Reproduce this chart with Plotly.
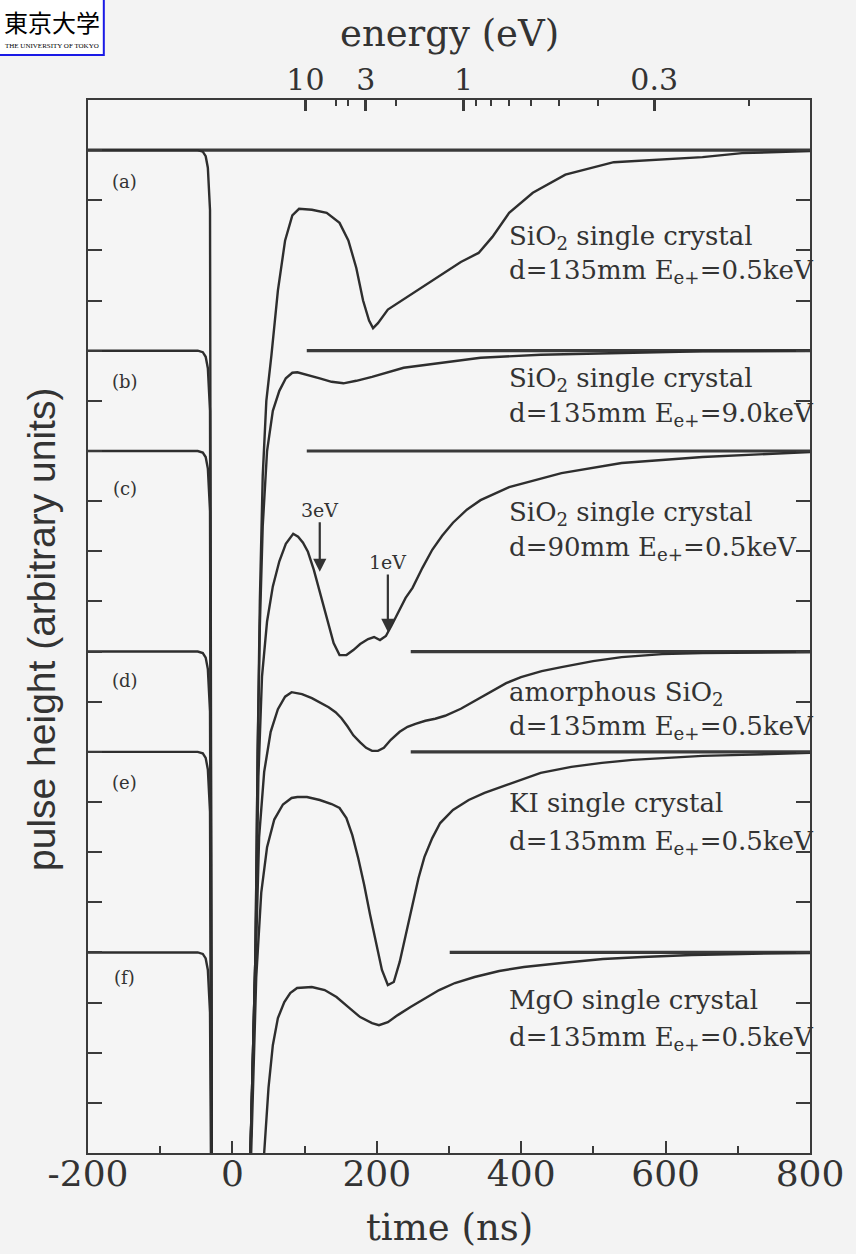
import plotly.graph_objects as go

# ---------------- data (time in ns, pulse height in arbitrary units) ----------------
BASELINES = [20, 16, 14, 10, 8, 4]
BASE_START = [-200, 103, 103, 247, 247, 301]

t_a = [-200, -48, -41, -37, -34, -31, -28, 20, 25, 32, 35, 38, 42, 47, 54, 63, 73,
       83, 92.3, 110.1, 130.6, 148.4, 160.6, 171.6, 181.0, 189.3, 194.8, 201.6, 215.3, 239.9, 267.3,
       316.4, 341.0, 360.1, 383.3, 416.1, 461.2, 528.2, 651.1, 705.8, 800]
v_a = [20, 20, 19.97, 19.88, 19.65, 18.8, -4, -4, 0, 4, 8, 11, 13.5, 15, 15.9, 17.2, 18.2,
       18.7, 18.83, 18.81, 18.75, 18.55, 18.2, 17.65, 17.0, 16.6, 16.45, 16.55, 16.82, 17.05, 17.3,
       17.77, 17.95, 18.27, 18.75, 19.15, 19.51, 19.76, 19.86, 19.94, 19.98]

t_b = [-200, -48, -41, -37, -34, -31, -28, 20, 25, 32, 35, 38, 42, 48, 56, 65, 74, 83, 90,
       104.6, 121.0, 137.4, 153.8, 171.6, 193.4, 237.2, 287.8, 343.7, 427.0, 539.1, 651.1, 800]
v_b = [16, 16, 15.97, 15.88, 15.65, 14.8, -4, -4, 0, 4, 8, 10.5, 12.5, 14, 14.8, 15.2, 15.45, 15.56, 15.57,
       15.52, 15.45, 15.38, 15.35, 15.4, 15.48, 15.66, 15.76, 15.86, 15.92, 15.96, 15.99, 16.0]

t_c = [-200, -48, -41, -37, -34, -31, -28, 20, 25, 32, 36, 41, 48, 56, 65, 74, 84.2, 91.0,
       97.8, 104.6, 112.8, 121.0, 131.9, 140.2, 148.4, 158.0, 167.5, 177.0, 188.0, 196.2, 204.4, 212.6,
       220.8, 231.7, 239.9, 249.5, 263.2, 276.8, 290.5, 305.5, 324.7, 343.7, 383.3, 455.8, 539.1, 651.1, 800]
v_c = [14, 14, 13.97, 13.88, 13.65, 12.8, -4, -4, 0, 4, 7.5, 9.5, 10.6, 11.3, 11.8, 12.15, 12.35, 12.29,
       12.17, 11.99, 11.63, 11.19, 10.57, 10.17, 9.93, 9.93, 10.03, 10.15, 10.25, 10.29, 10.23, 10.31,
       10.53, 10.83, 11.07, 11.27, 11.67, 12.03, 12.31, 12.57, 12.83, 13.02, 13.28, 13.56, 13.76, 13.88, 13.98]

t_d = [-200, -48, -41, -37, -34, -31, -28, 20, 25, 32, 37, 44, 53, 63, 73, 82, 96.4, 110.1, 121.0,
       133.3, 142.9, 151.1, 159.3, 167.5, 177.0, 185.2, 193.4, 201.6, 209.8, 219.4, 231.7, 242.6, 253.6,
       267.3, 280.9, 294.6, 316.4, 338.3, 360.1, 379.2, 399.7, 428.4, 455.8, 499.5, 539.1, 595.1, 651.1, 800]
v_d = [10, 10, 9.97, 9.88, 9.65, 8.8, -4, -4, 0, 4, 6.3, 7.6, 8.4, 8.85, 9.1, 9.19, 9.15, 9.07, 8.99,
       8.89, 8.79, 8.67, 8.51, 8.33, 8.19, 8.08, 8.02, 8.02, 8.08, 8.24, 8.40, 8.50, 8.56,
       8.62, 8.66, 8.72, 8.86, 9.04, 9.23, 9.37, 9.49, 9.61, 9.69, 9.81, 9.89, 9.95, 9.97, 9.99]

t_e = [-200, -48, -41, -37, -34, -31, -28, 20, 26, 33, 40, 48, 58, 70, 82, 90, 103.3, 121.0, 137.4,
       148.4, 157.9, 166.1, 174.3, 182.5, 190.7, 198.9, 207.1, 215.3, 223.5, 231.7, 239.9, 249.5, 257.7,
       265.9, 276.8, 287.8, 305.5, 327.3, 349.2, 372.4, 399.7, 427.0, 469.4, 511.8, 554.1, 595.1, 651.1,
       705.8, 800]
v_e = [8, 8, 7.97, 7.88, 7.65, 6.8, -4, -4, 0, 3.5, 5.2, 6.1, 6.65, 6.95, 7.08, 7.10, 7.10, 7.04, 6.96,
       6.88, 6.68, 6.34, 5.88, 5.35, 4.75, 4.21, 3.65, 3.35, 3.41, 3.81, 4.35, 4.95, 5.48,
       5.90, 6.28, 6.58, 6.84, 7.04, 7.18, 7.30, 7.44, 7.58, 7.70, 7.78, 7.84, 7.88, 7.92,
       7.94, 7.98]

t_f = [-200, -48, -41, -37, -34, -31, -28, 20, 44, 50, 56, 63, 71.9, 80.1, 89.6, 110.1, 127.8, 144.2,
       160.6, 177.0, 193.4, 203.0, 215.3, 229.0, 246.7, 264.5, 286.4, 308.2, 335.5, 369.6, 403.8, 455.8,
       513.2, 567.8, 636.1, 704.4, 800]
v_f = [4, 4, 3.97, 3.88, 3.65, 2.8, -4, -4, 0, 1.3, 2.15, 2.69, 3.01, 3.19, 3.29, 3.31, 3.25, 3.11,
       2.91, 2.71, 2.59, 2.55, 2.61, 2.75, 2.91, 3.07, 3.25, 3.39, 3.51, 3.63, 3.71, 3.79,
       3.87, 3.91, 3.95, 3.97, 3.99]

PANEL_TAGS = ["(a)", "(b)", "(c)", "(d)", "(e)", "(f)"]
PANEL_TAG_Y = [19.37, 15.38, 13.26, 9.43, 7.38, 3.51]
LINE1 = ["SiO<sub>2</sub> single crystal", "SiO<sub>2</sub> single crystal", "SiO<sub>2</sub> single crystal",
         "amorphous SiO<sub>2</sub>", "KI single crystal", "MgO single crystal"]
LINE2 = ["d=135mm E<sub>e+</sub>=0.5keV", "d=135mm E<sub>e+</sub>=9.0keV", "d=90mm E<sub>e+</sub>=0.5keV",
         "d=135mm E<sub>e+</sub>=0.5keV", "d=135mm E<sub>e+</sub>=0.5keV", "d=135mm E<sub>e+</sub>=0.5keV"]
LINE1_Y = [18.25, 15.42, 12.76, 9.17, 6.98, 3.05]
LINE2_Y = [17.57, 14.72, 12.06, 8.48, 6.20, 2.29]

# energy axis (Ps time of flight: t = K / sqrt(E))
TOF_K = 320.0
E_MAJOR = [10, 3, 1, 0.3]
E_MAJOR_TEXT = ["10", "3", "1", "0.3"]
E_MINOR = [5, 4, 2, 0.9, 0.8, 0.7, 0.6, 0.5, 0.4, 0.2]

# peak markers (time ns, pulse height)
MARK_TEXT = ["3eV", "1eV"]
MARK_T = [121.0, 215.3]
MARK_V = [11.59, 10.39]

X_TICKS = [-200, 0, 200, 400, 600, 800]

# ---------------- figure ----------------
INK = "#333333"
SERIF = "DejaVu Serif"
fig = go.Figure()

for b, s in zip(BASELINES, BASE_START):
    fig.add_trace(go.Scatter(x=[s, 800], y=[b, b], mode="lines",
                             line=dict(color="#3a3a3a", width=3.2), hoverinfo="skip"))

for tt, vv in [(t_a, v_a), (t_b, v_b), (t_c, v_c), (t_d, v_d), (t_e, v_e), (t_f, v_f)]:
    fig.add_trace(go.Scatter(x=tt, y=vv, mode="lines",
                             line=dict(color="#2e2e2e", width=2.4, shape="linear"),
                             hoverinfo="skip"))

# invisible trace to activate the top energy axis
fig.add_trace(go.Scatter(x=[-200, 800], y=[20, 20], xaxis="x2", mode="lines",
                         line=dict(width=0), hoverinfo="skip"))

ann = []
for tag, y in zip(PANEL_TAGS, PANEL_TAG_Y):
    ann.append(dict(x=-149, y=y, text=tag, showarrow=False, xanchor="center", yanchor="middle",
                    font=dict(family=SERIF, size=18, color=INK)))
for l1, l2, y1, y2 in zip(LINE1, LINE2, LINE1_Y, LINE2_Y):
    ann.append(dict(x=380, y=y1, text=l1, showarrow=False, xanchor="left", yanchor="middle",
                    font=dict(family=SERIF, size=26, color=INK)))
    ann.append(dict(x=380, y=y2, text=l2, showarrow=False, xanchor="left", yanchor="middle",
                    font=dict(family=SERIF, size=26, color=INK)))
for txt, t, v, ay in zip(MARK_TEXT, MARK_T, MARK_V, [-62, -70]):
    ann.append(dict(x=t, y=v, text=txt, showarrow=True, ax=0, ay=ay, arrowhead=2, arrowsize=1.2,
                    arrowwidth=2.2, arrowcolor=INK, standoff=0,
                    font=dict(family=SERIF, size=19, color=INK)))

# axis titles
ann.append(dict(xref="paper", yref="paper", x=0.501, y=-0.0712, text="time (ns)", showarrow=False,
                xanchor="center", yanchor="middle", font=dict(family=SERIF, size=37, color=INK)))
ann.append(dict(xref="paper", yref="paper", x=0.501, y=1.0627, text="energy (eV)", showarrow=False,
                xanchor="center", yanchor="middle", font=dict(family=SERIF, size=37, color=INK)))
ann.append(dict(xref="paper", yref="paper", x=-0.0637, y=0.4967, text="pulse height (arbitrary units)",
                showarrow=False, textangle=-90, xanchor="center", yanchor="middle",
                font=dict(family="Liberation Sans", size=39, color=INK)))

# logo
ann.append(dict(xref="paper", yref="paper", x=-0.0492, y=1.0741, text="東京大学", showarrow=False,
                xanchor="center", yanchor="middle",
                font=dict(family="Noto Sans CJK JP", size=24, color="#000000")))
ann.append(dict(xref="paper", yref="paper", x=-0.0492, y=1.0513, text="THE UNIVERSITY OF TOKYO",
                showarrow=False, xanchor="center", yanchor="middle",
                font=dict(family="Liberation Serif", size=7, color="#000000")))

shapes = [dict(type="rect", xref="paper", yref="paper", x0=-0.2, x1=0.0219, y0=1.0427, y1=1.2,
               line=dict(color="#1a1ae6", width=2), fillcolor="white", layer="below")]

axis_common = dict(showgrid=False, zeroline=False, showline=True, linecolor="#3a3a3a", linewidth=2.2,
                   ticks="inside", tickcolor="#3a3a3a")

fig.update_layout(
    width=856, height=1254,
    margin=dict(l=88, r=36, t=100, b=101),
    paper_bgcolor="#f3f3f3", plot_bgcolor="#f5f5f5",
    showlegend=False,
    annotations=ann, shapes=shapes,
    xaxis=dict(range=[-200, 800], tickmode="array", tickvals=X_TICKS,
               ticktext=[str(v) for v in X_TICKS], ticklen=12, tickwidth=2, ticklabelstandoff=-12,
               minor=dict(dtick=100, tick0=-100, ticks="inside", ticklen=7, tickwidth=2, tickcolor="#3a3a3a"),
               tickfont=dict(family=SERIF, size=36, color=INK), **axis_common),
    xaxis2=dict(range=[-200, 800], overlaying="x", side="top", anchor="y", tickmode="array",
                tickvals=[TOF_K / e ** 0.5 for e in E_MAJOR], ticktext=E_MAJOR_TEXT, ticklen=11, tickwidth=2.5,
                ticklabelstandoff=-4,
                minor=dict(tickmode="array", tickvals=[TOF_K / e ** 0.5 for e in E_MINOR], ticks="inside",
                           ticklen=6, tickwidth=2, tickcolor="#3a3a3a"),
                tickfont=dict(family=SERIF, size=30, color=INK), **axis_common),
    yaxis=dict(range=[0, 21], dtick=1, tick0=0, ticklen=14, tickwidth=2, showticklabels=False,
               mirror="ticks", **axis_common),
)

fig.write_html("out.html")
